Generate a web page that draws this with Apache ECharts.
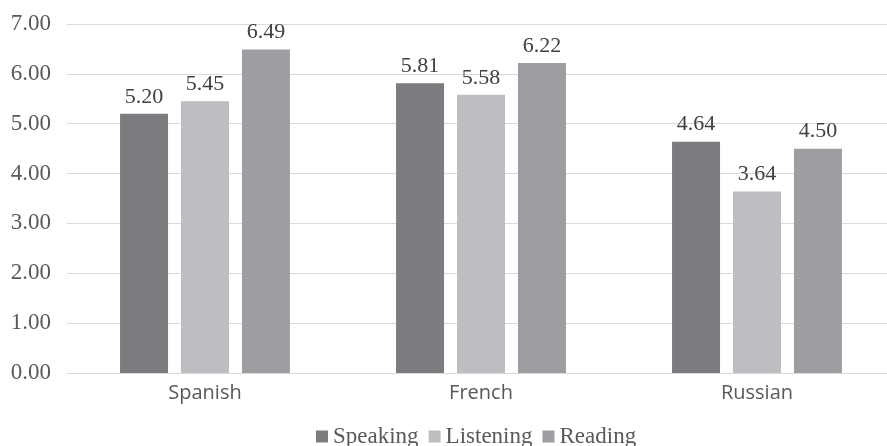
<!DOCTYPE html>
<html>
<head>
<meta charset="utf-8">
<script src="https://cdn.jsdelivr.net/npm/echarts@6/dist/echarts.min.js"></script>
<style>
  html, body { margin: 0; padding: 0; background: #fff; overflow: hidden; }
  /* plot area runs a bit past the right edge in the original, so the canvas is wider than the window */
  #chart { width: 895px; height: 446px; }
</style>
</head>
<body>
<div id="chart"></div>
<script>
var languages = ['Spanish', 'French', 'Russian'];
var seriesNames = ['Speaking', 'Listening', 'Reading'];
var speaking = [5.20, 5.81, 4.64];
var listening = [5.45, 5.58, 3.64];
var reading = [6.49, 6.22, 4.50];

var chart = echarts.init(document.getElementById('chart'));

function barSeries(name, data, color) {
    return {
        name: name,
        type: 'bar',
        data: data,
        barWidth: 48,
        barGap: '27%',
        itemStyle: { color: color },
        label: {
            show: true,
            position: 'top',
            distance: 6,
            fontFamily: 'Liberation Serif',
            fontSize: 22,
            color: '#404040',
            formatter: function (p) { return p.value.toFixed(2); }
        }
    };
}

var option = {
    animation: false,
    grid: { left: 67, top: 24, right: 0, height: 349 },
    legend: {
        data: seriesNames,
        top: 420,
        left: 311,
        icon: 'rect',
        itemWidth: 12,
        itemHeight: 12,
        itemGap: 10,
        textStyle: { fontFamily: 'Liberation Serif', fontSize: 23, color: '#595959' }
    },
    xAxis: {
        type: 'category',
        data: languages,
        axisLine: { lineStyle: { color: '#d9d9d9' } },
        axisTick: { show: false },
        axisLabel: { fontFamily: 'Open Sans', fontSize: 20, color: '#595959', margin: 10 }
    },
    yAxis: {
        type: 'value',
        min: 0,
        max: 7,
        interval: 1,
        axisLine: { show: false },
        axisTick: { show: false },
        splitLine: { lineStyle: { color: '#d9d9d9' } },
        axisLabel: {
            fontFamily: 'Liberation Serif',
            fontSize: 23,
            color: '#595959',
            margin: 16,
            formatter: function (v) { return v.toFixed(2); }
        }
    },
    series: [
        barSeries('Speaking', speaking, '#7b7c80'),
        barSeries('Listening', listening, '#bdbec1'),
        barSeries('Reading', reading, '#9d9ea2')
    ]
};

chart.setOption(option);
</script>
</body>
</html>
